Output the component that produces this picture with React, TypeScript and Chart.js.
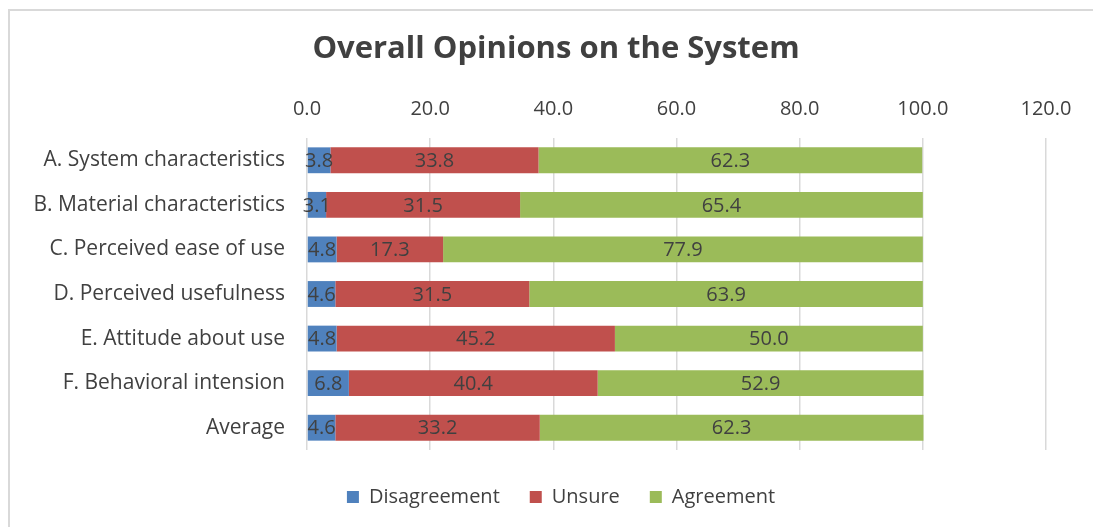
import React, { useEffect, useRef } from "react";
import { Chart, registerables } from "chart.js";

Chart.register(...registerables);

const categories = [
  "A. System characteristics",
  "B. Material characteristics",
  "C. Perceived ease of use",
  "D. Perceived usefulness",
  "E. Attitude about use",
  "F. Behavioral intension",
  "Average",
];
const disagreement = [3.8, 3.1, 4.8, 4.6, 4.8, 6.8, 4.6];
const unsure = [33.8, 31.5, 17.3, 31.5, 45.2, 40.4, 33.2];
const agreement = [62.3, 65.4, 77.9, 63.9, 50.0, 52.9, 62.3];
const xTicks = [0, 20, 40, 60, 80, 100, 120];

const FONT = "'Open Sans', sans-serif";
const TEXT = "#404040";

const dataLabels = {
  id: "dataLabels",
  afterDatasetsDraw(chart: any) {
    const ctx = chart.ctx;
    ctx.save();
    ctx.font = `20px ${FONT}`;
    ctx.fillStyle = TEXT;
    ctx.textAlign = "center";
    ctx.textBaseline = "middle";
    chart.data.datasets.forEach((ds: any, i: number) => {
      const meta = chart.getDatasetMeta(i);
      meta.data.forEach((el: any, j: number) => {
        const { x, base, y } = el.getProps(["x", "base", "y"], true);
        ctx.fillText(Number(ds.data[j]).toFixed(1), (x + base) / 2, y + 1);
      });
    });
    ctx.restore();
  },
};

// Shift title and legend so they are centred like the reference
const shiftBlocks = {
  id: "shiftBlocks",
  afterLayout(chart: any) {
    const shifts: [any, number][] = [
      [chart.titleBlock, 28],
      [chart.legend, 33],
    ];
    shifts.forEach(([b, dx]) => {
      if (b) {
        b.left += dx;
        b.right += dx;
      }
    });
  },
};

export default function App() {
  const ref = useRef<HTMLCanvasElement>(null);
  useEffect(() => {
    if (!ref.current) return;
    const chart = new Chart(ref.current, {
      type: "bar",
      data: {
        labels: categories,
        datasets: [
          { label: "Disagreement", data: disagreement, backgroundColor: "#4f81bd" },
          { label: "Unsure", data: unsure, backgroundColor: "#c0504d" },
          { label: "Agreement", data: agreement, backgroundColor: "#9bbb59" },
        ],
      },
      options: {
        indexAxis: "y",
        responsive: false,
        animation: false,
        events: [],
        datasets: { bar: { barPercentage: 0.58, categoryPercentage: 1 } },
        layout: { padding: { left: 0, right: 47, top: 0, bottom: 10 } },
        plugins: {
          title: {
            display: true,
            text: "Overall Opinions on the System",
            color: TEXT,
            font: { family: FONT, size: 31, weight: "bold" },
            padding: { top: 20, bottom: 0 },
          },
          legend: {
            position: "bottom",
            title: { display: true, text: "", font: { size: 5 }, padding: 0.5 },
            labels: {
              color: TEXT,
              font: { family: FONT, size: 20 },
              boxWidth: 12,
              boxHeight: 12,
              padding: 30,
            },
          },
          tooltip: { enabled: false },
        },
        scales: {
          x: {
            position: "top",
            stacked: true,
            min: 0,
            max: 120,
            afterBuildTicks(scale: any) {
              scale.ticks = xTicks.map((v) => ({ value: v }));
            },
            afterFit(scale: any) {
              scale.height = 69.8;
            },
            grid: { color: "#d9d9d9", drawTicks: false, lineWidth: 1.5 },
            border: { display: false },
            ticks: {
              color: TEXT,
              font: { family: FONT, size: 20 },
              padding: 17,
              callback: (v: any) => Number(v).toFixed(1),
            },
          },
          y: {
            stacked: true,
            afterFit(scale: any) {
              scale.width = 297;
            },
            grid: { display: false, drawTicks: false },
            border: { display: false },
            ticks: {
              color: TEXT,
              font: { family: FONT, size: 21 },
              padding: 22,
            },
          },
        },
      },
      plugins: [dataLabels, shiftBlocks],
    });
    return () => chart.destroy();
  }, []);
  return (
    <div
      style={{
        position: "fixed",
        left: 8,
        top: 9,
        width: 1083,
        height: 516,
        borderTop: "2px solid #d9d9d9",
        borderLeft: "2px solid #d9d9d9",
        background: "#fff",
      }}
    >
      <canvas ref={ref} width={1083} height={516} style={{ display: "block" }} />
    </div>
  );
}
